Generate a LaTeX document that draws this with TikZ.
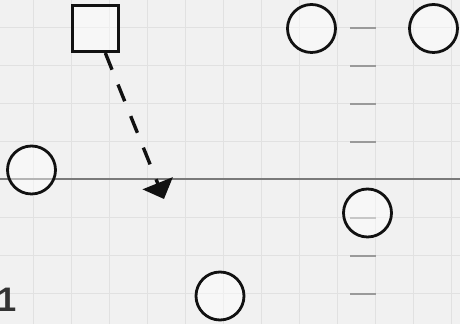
\documentclass[tikz,border=0pt]{standalone}
\usepackage{fontspec}
\setsansfont{Liberation Sans}
\usetikzlibrary{arrows.meta, positioning}
\definecolor{cbg}{HTML}{F1F1F1}
\definecolor{cgrid}{HTML}{E1E1E1}
\definecolor{caxis}{HTML}{7A7A7A}
\definecolor{ctick}{HTML}{9A9A9A}
\definecolor{cink}{HTML}{111111}
\definecolor{clabel}{HTML}{333333}
\tikzset{
  ring/.style={circle, draw=cink, line width=1.4pt, fill=white, fill opacity=0.45,
               text opacity=1, minimum size=24pt, inner sep=0pt},
  sqbox/.style={rectangle, draw=cink, line width=1.5pt, fill=white, fill opacity=0.45,
                minimum size=23pt, inner sep=0pt},
  darr/.style={-{Triangle[length=8.5pt, width=16pt]}, line width=1.7pt, cink,
               dash pattern=on 9pt off 8pt},
  tickmark/.style={ctick, line width=0.8pt},
}
\begin{document}
\begin{tikzpicture}[x=0.5pt, y=-0.5pt]
  \useasboundingbox (0,0) rectangle (460,324);
  \fill[cbg] (0,0) rectangle (460,324);
  % grid
  \foreach \x in {33,71,...,451}{
    \draw[cgrid, line width=0.5pt] (\x,0) -- (\x,324);
  }
  \foreach \y in {28,66,...,294}{
    \draw[cgrid, line width=0.5pt] (0,\y) -- (460,\y);
  }
  % axis and ticks
  \draw[caxis, line width=1pt] (0,179) -- (460,179);
  \foreach \y in {28,66,104,142,218,256,294}{
    \draw[tickmark] (350,\y) -- (376,\y);
  }

  \node[sqbox] (src) at (95.5,28.5) {};
  \coordinate (tip) at (164,199);
  \draw[darr] (src) -- (tip);

  \node[ring] (c1) at (311.5,28.5) {};
  \node[ring] (c2) at (433.5,28.5) {};
  \node[ring] (c3) at (31.5,170) {};
  \node[ring] (c4) at (367.5,213) {};
  \node[ring] (c5) at (220,296) {};

  \node[font=\sffamily\bfseries\fontsize{17}{17}\selectfont, clabel, anchor=base west,
        inner sep=0pt] (lbl) at (-3,312) {1};
\end{tikzpicture}
\end{document}
